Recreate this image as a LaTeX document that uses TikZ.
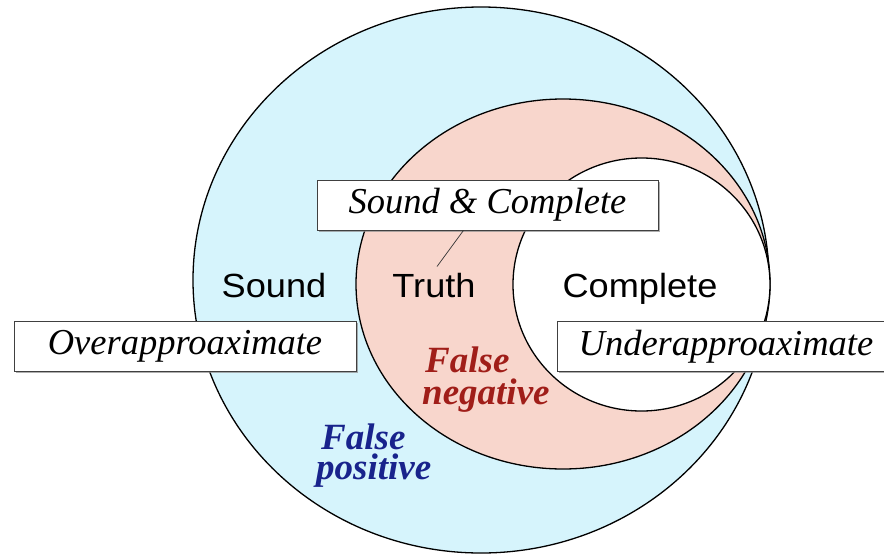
\documentclass[tikz,border=0pt]{standalone}
\usepackage{fontspec}
\setmainfont{Liberation Serif}
\newfontfamily\arialf[FakeStretch=1.08]{Liberation Sans}
\usetikzlibrary{shadows,calc}
\definecolor{skyfill}{RGB}{214,244,252}
\definecolor{pinkfill}{RGB}{248,214,204}
\definecolor{negred}{RGB}{160,30,25}
\definecolor{posblue}{RGB}{25,35,140}
\begin{document}
\begin{tikzpicture}[x=1pt,y=-1pt,
  region/.style={draw=black, line width=1.3pt},
  labelbox/.style={draw=black!75, line width=0.8pt, fill=white, minimum height=50pt, inner sep=0pt,
    font=\fontsize{36.5}{40}\selectfont\itshape,
    drop shadow={shadow xshift=1.5pt, shadow yshift=-1.5pt, fill=black!45, opacity=0.7}},
  setlabel/.style={font=\arialf\fontsize{33.5}{38}\selectfont, inner sep=0pt, anchor=base},
  errlabel/.style={font=\fontsize{37}{40}\selectfont\bfseries\itshape, inner sep=0pt, anchor=base west}
]
\useasboundingbox (0,0) rectangle (884,555);
\fill[white] (0,0) rectangle (884,555);
% regions
\draw[region, fill=skyfill] (481,280) ellipse [x radius=288pt, y radius=273pt];
\draw[region, fill=pinkfill] (563,284) ellipse [x radius=207pt, y radius=185pt];
\draw[region, fill=white] (641.5,284.5) ellipse [x radius=128.5pt, y radius=126.5pt];
% set labels
\node[setlabel] (sound) at (274,297) {Sound};
\node[setlabel] (truth) at (434,297) {Truth};
\node[setlabel] (complete) at (640,297) {Complete};
% error labels
\node[errlabel, text=negred] (fneg1) at (425,372) {False};
\node[errlabel, text=negred] (fneg2) at (422,404) {negative};
\node[errlabel, text=posblue] (fpos1) at (321,449) {False};
\node[errlabel, text=posblue] (fpos2) at (316,479) {positive};
% boxes
\node[labelbox, minimum width=341pt] (scbox) at (487.5,205) {Sound \& Complete};
\node[labelbox, minimum width=342pt] (overbox) at (185,346) {Overapproaximate};
\node[labelbox, minimum width=338pt] (underbox) at (726,346.5) {Underapproaximate};
% connector
\draw[line width=0.7pt, black!80] ([xshift=-24pt]scbox.south) -- ([xshift=3pt,yshift=6pt]truth.north);
\end{tikzpicture}
\end{document}
